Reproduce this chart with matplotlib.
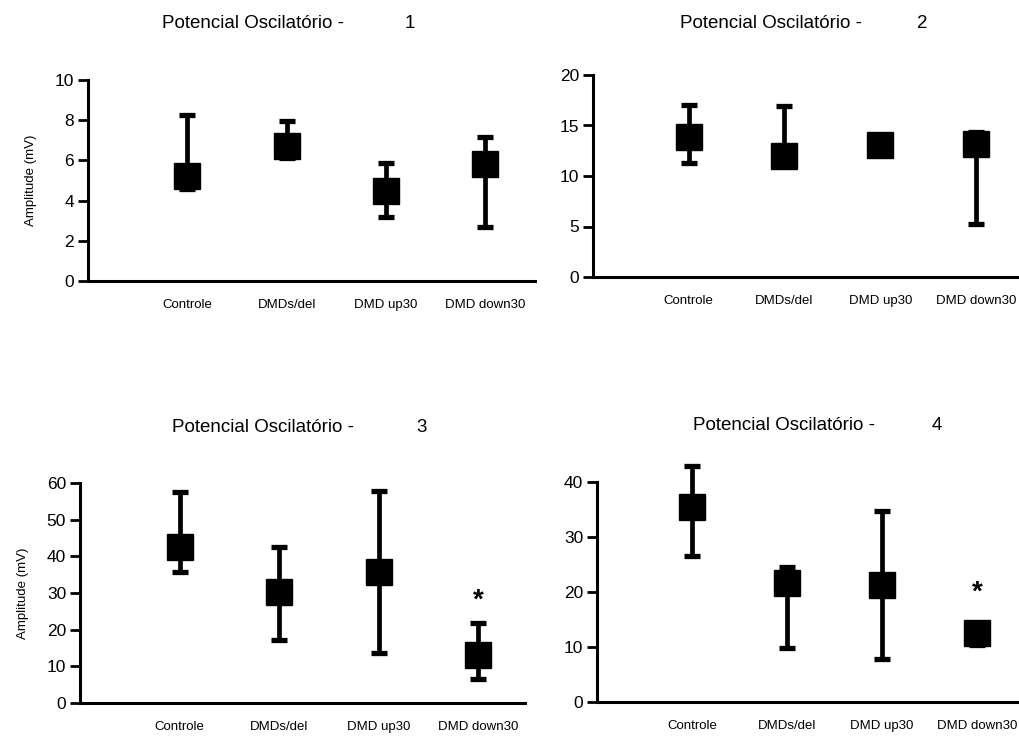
import numpy as np
import matplotlib
matplotlib.use('Agg')
import matplotlib.pyplot as plt
from matplotlib.transforms import ScaledTranslation
from matplotlib import font_manager

names = {f.name for f in font_manager.fontManager.ttflist}
fam = [n for n in ['Liberation Sans Narrow', 'DejaVu Sans Condensed',
                   'Liberation Sans'] if n in names] + ['DejaVu Sans']
plt.rcParams['font.family'] = fam
narrow = fam[0] in ('Liberation Sans Narrow', 'DejaVu Sans Condensed')

groups = ['Controle', 'DMDs/del', 'DMD up30', 'DMD down30']

# mean, lower end and upper end of the bars for each panel
mean1 = [5.2, 6.7, 4.5, 5.8]
low1 = [4.6, 6.1, 3.2, 2.7]
high1 = [8.25, 7.95, 5.85, 7.15]

mean2 = [13.9, 12.0, 13.1, 13.2]
low2 = [11.3, 11.0, 12.2, 5.25]
high2 = [17.0, 16.9, 13.6, 14.4]

mean3 = [42.5, 30.3, 35.6, 13.2]
low3 = [35.7, 17.2, 13.6, 6.5]
high3 = [57.6, 42.6, 57.9, 21.9]

mean4 = [35.5, 21.6, 21.3, 12.5]
low4 = [26.5, 9.8, 7.8, 10.3]
high4 = [42.9, 24.5, 34.7, 14.3]

ymax = [10, 20, 60, 40]
ystep = [2, 5, 10, 10]
star = [None, None, 28, 19.8]   # significance mark height

W, H = 1019, 742
fig = plt.figure(figsize=(W / 100, H / 100), dpi=100)

# axes boxes in pixels: left, right, top, bottom
boxes = [(88, 535, 80, 281), (593, 1019, 75, 277),
         (80, 525, 483, 703), (597, 1019, 482, 702)]
xright = [4.5, 4.45, 4.47, 4.44]
titles = [(162, 410, 23), (680, 922, 23), (172, 422, 427), (693, 937, 425)]

data = [(mean1, low1, high1), (mean2, low2, high2),
        (mean3, low3, high3), (mean4, low4, high4)]

fs_x = 10.5 if narrow else 9.5
fs_t = 15 if narrow else 13.5

x = np.arange(1, 5)
for i, (m, lo, hi) in enumerate(data):
    l, r, t, b = boxes[i]
    ax = fig.add_axes([l / W, 1 - b / H, (r - l) / W, (b - t) / H])
    m = np.array(m)
    err = [m - np.array(lo), np.array(hi) - m]
    ax.errorbar(x, m, yerr=err, fmt='s', color='black', ms=19,
                capsize=5.5, elinewidth=3.4, capthick=3.8, clip_on=False)
    ax.set_xlim(0, xright[i])
    ax.set_ylim(0, ymax[i])
    ax.set_yticks(np.arange(0, ymax[i] + 1, ystep[i]))
    ax.set_xticks(x)
    ax.set_xticklabels(groups, fontsize=fs_x)
    off = ScaledTranslation(-11 / 72, 0, fig.dpi_scale_trans)
    for lab in ax.get_xticklabels():
        lab.set_transform(lab.get_transform() + off)
    ax.tick_params(axis='x', length=0, pad=13)
    ax.tick_params(axis='y', length=7, width=2, labelsize=12.5, pad=3)
    for s in ['top', 'right']:
        ax.spines[s].set_visible(False)
    for s in ['left', 'bottom']:
        ax.spines[s].set_linewidth(2.2)
    if i in (0, 2):
        ax.set_ylabel('Amplitude (mV)', fontsize=fs_x, labelpad=13)
    if star[i] is not None:
        ax.text(4, star[i], '*', ha='center', va='center', fontsize=20,
                fontweight='bold')
    tx, nx, ty = titles[i]
    fig.text(tx / W, 1 - ty / H, 'Potencial Oscilatório -', ha='left',
             va='center', fontsize=fs_t)
    fig.text(nx / W, 1 - ty / H, str(i + 1), ha='center', va='center',
             fontsize=fs_t)

fig.savefig('out.png', dpi=100)
